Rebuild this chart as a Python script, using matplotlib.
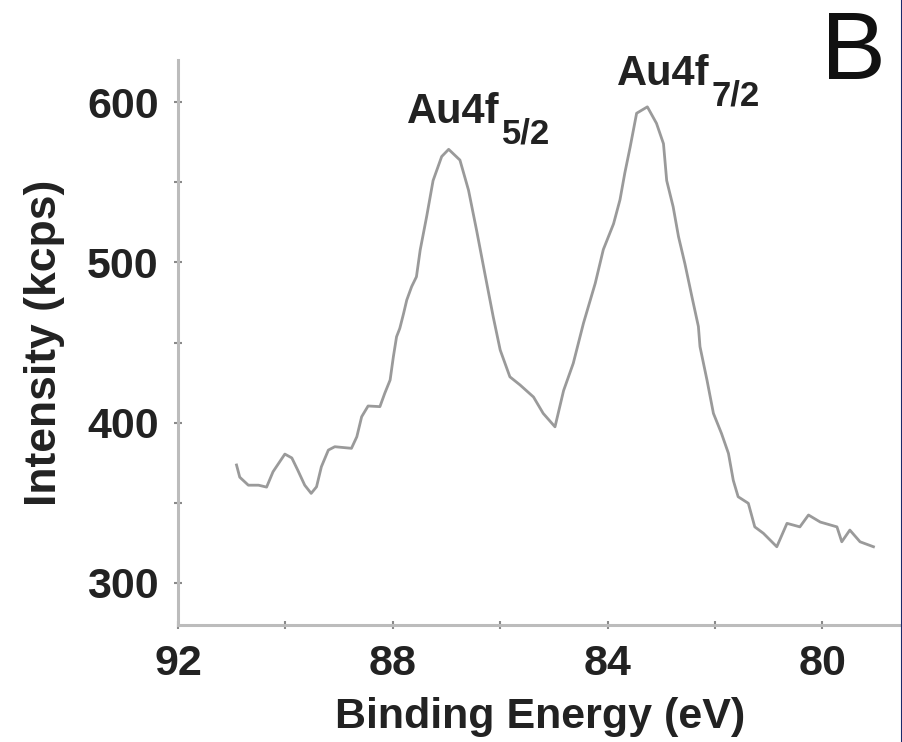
import numpy as np
import matplotlib.pyplot as plt
from matplotlib.lines import Line2D

# Au 4f XPS spectrum
binding_energy = [90.91, 90.85, 90.69, 90.50, 90.35, 90.23, 90.01, 89.88, 89.77, 89.64,
                  89.52, 89.42, 89.33, 89.20, 89.08, 88.77, 88.67, 88.58, 88.46, 88.24,
                  88.15, 88.05, 87.99, 87.93, 87.87, 87.80, 87.74, 87.65, 87.56, 87.49,
                  87.37, 87.25, 87.09, 86.96, 86.75, 86.59, 86.44, 86.28, 86.13, 86.00,
                  85.82, 85.63, 85.38, 85.20, 84.98, 84.82, 84.64, 84.45, 84.23, 84.08,
                  83.89, 83.77, 83.68, 83.58, 83.46, 83.26, 83.09, 82.96, 82.90, 82.78,
                  82.68, 82.56, 82.43, 82.31, 82.28, 82.15, 82.03, 81.88, 81.75, 81.66,
                  81.57, 81.38, 81.26, 81.10, 80.85, 80.66, 80.42, 80.26, 80.04, 79.73,
                  79.64, 79.49, 79.30, 79.05]
intensity = [373.6, 366.0, 361.0, 361.0, 359.8, 369.4, 380.4, 378.0, 370.4, 361.0,
             355.9, 360.0, 372.5, 382.9, 385.0, 384.0, 391.2, 403.7, 410.4, 410.0,
             418.3, 426.6, 441.0, 453.6, 458.8, 468.0, 476.5, 484.8, 491.0, 507.7,
             528.5, 551.0, 566.0, 570.5, 563.8, 545.0, 520.0, 492.0, 466.0, 445.3,
             428.6, 423.5, 416.0, 405.8, 397.4, 420.0, 437.0, 462.0, 487.0, 508.0,
             524.0, 539.0, 555.7, 572.0, 593.0, 597.0, 586.7, 574.0, 551.0, 534.7,
             516.0, 499.0, 478.5, 460.0, 447.4, 426.6, 405.8, 393.3, 380.8, 364.0,
             353.8, 349.7, 335.0, 331.0, 322.6, 337.2, 335.0, 342.4, 338.0, 335.0,
             325.7, 333.0, 325.7, 322.6]

x_major = [92, 88, 84, 80]
x_minor = [90, 86, 82]
y_major = [300, 400, 500, 600]
y_minor = [350, 450, 550]

plt.rcParams['font.family'] = ['Liberation Sans', 'DejaVu Sans']

fig = plt.figure(figsize=(9.03, 7.42), dpi=100)
ax = fig.add_axes([0.1971, 0.1577, 0.8029, 0.7614])

ax.plot(binding_energy, intensity, color='#9a9a9a', lw=2.0)

ax.set_xlim(92, 78.5)
ax.set_ylim(273.8, 626.2)

axis_grey = '#bcbcbc'
for side in ['top', 'right']:
    ax.spines[side].set_visible(False)
for side in ['left', 'bottom']:
    ax.spines[side].set_color(axis_grey)
    ax.spines[side].set_linewidth(2.2)

ax.set_xticks(x_major)
ax.set_xticks(x_minor, minor=True)
ax.set_yticks(y_major)
ax.set_yticks(y_minor, minor=True)
ax.tick_params(which='both', direction='inout', length=6, width=1.5, color='#8a8a8a')
ax.tick_params(axis='x', pad=11)
ax.tick_params(axis='y', pad=11)
for lab in ax.get_xticklabels() + ax.get_yticklabels():
    lab.set_fontsize(31)
    lab.set_fontweight('bold')
    lab.set_color('#222222')

ax.set_xlabel('Binding Energy (eV)', fontsize=31, fontweight='bold', color='#222222', labelpad=9)
ax.set_ylabel('Intensity (kcps)', fontsize=32, fontweight='bold', color='#222222', labelpad=16)

# peak labels, subscripts drawn as separate smaller text
peak_style = dict(fontsize=30, fontweight='bold', color='#222222', va='baseline')
sub_style = dict(fontsize=25, fontweight='bold', color='#222222', va='baseline')
ax.text(87.74, 586.9, 'Au4f', **peak_style)
ax.text(85.97, 574.4, '5/2', **sub_style)
ax.text(83.83, 610.6, 'Au4f', **peak_style)
ax.text(82.06, 598.1, '7/2', **sub_style)

# panel letter
fig.text(0.909, 0.894, 'B', fontsize=70, color='#111111', va='baseline')

# thin navy border on the right edge
fig.add_artist(Line2D([0.9985, 0.9985], [0, 1], transform=fig.transFigure,
                      color='#1b2a6b', lw=1.5))

fig.savefig('out.png', dpi=100)
